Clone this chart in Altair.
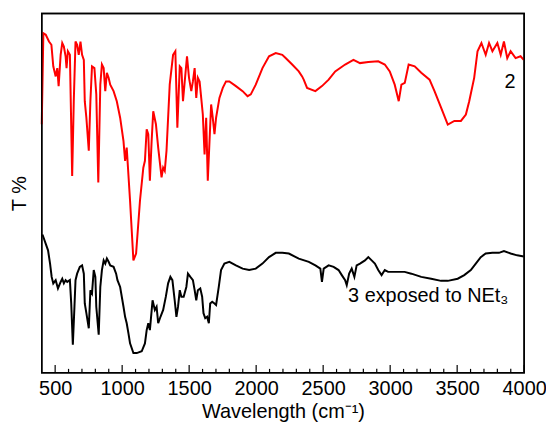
import altair as alt
import pandas as pd

FONT = "Liberation Sans"

# Spectrum of compound 2 (red, upper trace)
red_x = [400, 412, 430, 454, 472, 486, 504, 516, 526, 541, 553, 565, 578, 585, 595, 610, 627, 639, 652, 664,
         676, 689, 701, 714, 721, 733, 751, 763, 775, 793, 807, 822, 837, 849, 862, 874, 886, 899, 911, 936,
         960, 985, 1010, 1022, 1034, 1059, 1084, 1104, 1133, 1158, 1170, 1183, 1195, 1207, 1220, 1232, 1252,
         1269, 1294, 1306, 1318, 1331, 1355, 1380, 1397, 1412, 1430, 1442, 1454, 1467, 1484, 1499, 1516, 1528,
         1541, 1553, 1565, 1578, 1590, 1602, 1615, 1627, 1639, 1652, 1664, 1676, 1689, 1701, 1726, 1751, 1775,
         1800, 1849, 1899, 1936, 1960, 1997, 2047, 2096, 2146, 2195, 2220, 2269, 2318, 2343, 2355, 2380, 2442,
         2491, 2541, 2590, 2664, 2726, 2775, 2837, 2911, 2960, 2997, 3034, 3064, 3084, 3109, 3138, 3183, 3232,
         3294, 3331, 3380, 3430, 3479, 3528, 3565, 3590, 3627, 3652, 3681, 3713, 3738, 3763, 3800, 3825, 3849,
         3874, 3899, 3936, 3973, 3997]
red_y = [69.2, 94.5, 94.1, 92.2, 91.3, 85.3, 82.5, 84.8, 79.8, 88.5, 91.8, 90.8, 88.1, 84.8, 89.5, 88.5, 54.8,
         75.6, 92.2, 91.3, 88.5, 92.2, 88.5, 87.1, 75.6, 71.0, 61.8, 75.6, 85.3, 84.8, 77.5, 53.0, 80.2, 85.8,
         84.8, 78.4, 83.5, 82.1, 80.2, 78.4, 75.6, 71.0, 64.5, 59.0, 62.7, 47.9, 31.3, 33.2, 47.9, 57.1, 59.0,
         67.8, 66.4, 53.5, 64.5, 72.8, 69.2, 62.7, 54.4, 57.1, 56.2, 61.8, 80.2, 88.5, 89.5, 68.2, 85.3, 84.8,
         75.6, 81.1, 88.1, 82.1, 78.4, 81.1, 84.8, 76.5, 82.1, 81.1, 76.5, 71.9, 60.8, 71.0, 53.5, 64.5, 74.7,
         71.0, 66.4, 71.0, 76.5, 79.3, 81.1, 81.1, 79.8, 78.4, 77.0, 77.5, 80.2, 84.8, 88.1, 89.0, 88.5, 87.6,
         85.8, 83.9, 82.5, 81.6, 79.3, 78.4, 79.8, 81.6, 83.9, 85.8, 87.1, 86.2, 86.5, 86.7, 85.8, 83.9, 80.2,
         75.6, 80.2, 80.7, 85.8, 85.3, 83.5, 81.6, 78.4, 73.8, 69.1, 70.1, 70.1, 71.9, 75.6, 82.1, 89.5, 91.8,
         88.5, 91.8, 89.5, 91.8, 88.5, 92.2, 87.6, 89.5, 87.6, 88.1, 87.1]

# Spectrum of 3 exposed to NEt3 (black, lower trace)
blk_x = [405, 412, 430, 447, 462, 474, 486, 504, 521, 541, 553, 565, 578, 590, 610, 620, 632, 644, 652, 664,
         684, 701, 714, 721, 733, 751, 763, 775, 788, 800, 807, 825, 837, 849, 862, 874, 886, 899, 911, 936,
         955, 965, 985, 1010, 1022, 1034, 1047, 1059, 1084, 1109, 1146, 1170, 1183, 1195, 1207, 1227, 1244,
         1257, 1269, 1286, 1306, 1326, 1343, 1360, 1375, 1392, 1405, 1417, 1430, 1442, 1459, 1479, 1491, 1509,
         1528, 1541, 1553, 1565, 1583, 1597, 1607, 1620, 1634, 1647, 1657, 1672, 1689, 1701, 1721, 1738, 1763,
         1800, 1849, 1899, 1948, 1997, 2047, 2096, 2146, 2195, 2244, 2318, 2393, 2442, 2479, 2491, 2504, 2541,
         2578, 2615, 2639, 2664, 2676, 2694, 2713, 2733, 2750, 2775, 2812, 2837, 2862, 2886, 2911, 2936, 2960,
         2985, 3034, 3108, 3158, 3232, 3306, 3380, 3430, 3504, 3553, 3602, 3639, 3676, 3713, 3763, 3812, 3849,
         3899, 3948, 3997]
blk_y = [38.5, 37.8, 35.9, 34.1, 30.4, 26.7, 24.9, 25.8, 23.5, 25.3, 26.2, 24.9, 25.8, 25.3, 25.8, 19.3, 7.8,
         18.4, 25.8, 27.6, 29.5, 29.9, 27.6, 19.3, 16.6, 12.4, 23.0, 22.1, 28.6, 26.7, 18.4, 10.6, 23.9, 28.6,
         31.3, 30.4, 31.8, 30.9, 29.9, 29.5, 27.6, 25.8, 23.9, 18.4, 15.6, 13.8, 11.0, 8.2, 5.5, 5.5, 6.0, 8.2,
         11.9, 13.8, 11.9, 20.2, 17.5, 18.4, 13.8, 15.6, 17.5, 21.2, 24.9, 26.7, 25.8, 20.2, 15.6, 18.4, 23.0,
         21.2, 21.2, 23.9, 27.6, 26.7, 25.8, 23.0, 20.2, 23.0, 23.5, 21.2, 16.6, 15.2, 15.6, 13.8, 19.3, 19.8,
         19.3, 18.9, 23.9, 28.6, 30.4, 30.9, 29.9, 29.0, 28.6, 29.0, 30.4, 32.2, 33.4, 33.4, 33.2, 31.8, 30.9,
         29.9, 29.0, 25.3, 29.0, 29.9, 29.5, 28.6, 27.2, 25.8, 24.4, 27.6, 29.0, 26.7, 29.9, 30.4, 31.3, 32.2,
         31.3, 30.4, 28.6, 27.2, 28.6, 28.1, 28.1, 28.1, 27.6, 26.7, 26.2, 25.6, 25.6, 26.2, 27.2, 28.6, 30.4,
         32.2, 33.2, 33.4, 33.4, 33.9, 33.2, 32.7, 32.4]

series_names = ["2", "3 exposed to NEt3"]
series_colors = ["#ff0000", "#000000"]

x_labels = [500, 1000, 1500, 2000, 2500, 3000, 3500, 4000]
minor_ticks = [v for v in range(500, 4001, 100) if v % 500 != 0]

df = pd.concat([
    pd.DataFrame({"wn": red_x, "t": red_y, "s": series_names[0]}),
    pd.DataFrame({"wn": blk_x, "t": blk_y, "s": series_names[1]}),
])

W, H = 486, 362
xscale = alt.Scale(domain=[400, 4000], nice=False, zero=False)
yscale = alt.Scale(domain=[0, 100], nice=False, zero=False)

lines = alt.Chart(df).mark_line(strokeWidth=2).encode(
    x=alt.X("wn:Q", scale=xscale,
            axis=alt.Axis(values=x_labels, format="d", title="Wavelength (cm⁻¹)", tickSize=0, domain=False,
                          grid=False, labelFontSize=20, labelPadding=6, labelColor="black",
                          labelFont=FONT, titleFont=FONT, titleFontSize=20, titleFontWeight="normal",
                          titleColor="black", titlePadding=3, labelFlush=False)),
    y=alt.Y("t:Q", scale=yscale,
            axis=alt.Axis(labels=False, ticks=False, domain=False, grid=False, title="T %",
                          titleFont=FONT, titleFontSize=20, titleFontWeight="normal",
                          titleColor="black", titlePadding=12)),
    color=alt.Color("s:N", scale=alt.Scale(domain=series_names, range=series_colors), legend=None),
    detail="s:N",
)

major_df = pd.DataFrame({"wn": x_labels})
minor_df = pd.DataFrame({"wn": minor_ticks})
major_ticks = alt.Chart(major_df).mark_rule(color="black", strokeWidth=1.2).encode(
    x=alt.X("wn:Q", scale=xscale), y=alt.value(H), y2=alt.value(H - 8))
minor_ticks_layer = alt.Chart(minor_df).mark_rule(color="black", strokeWidth=1.2).encode(
    x=alt.X("wn:Q", scale=xscale), y=alt.value(H), y2=alt.value(H - 4))

frame = alt.Chart(pd.DataFrame({"k": [0]})).mark_rect(
    fill=None, fillOpacity=0, stroke="black", strokeWidth=1.5).encode(
    x=alt.value(0), x2=alt.value(W), y=alt.value(0), y2=alt.value(H))

lab2 = alt.Chart(pd.DataFrame({"wn": [3894], "t": [81], "txt": ["2"]})).mark_text(
    font=FONT, fontSize=20, color="black", align="center", baseline="middle").encode(
    x=alt.X("wn:Q", scale=xscale), y=alt.Y("t:Q", scale=yscale), text="txt:N")

lab3 = alt.Chart(pd.DataFrame({"wn": [2686], "t": [19.6], "txt": ["3 exposed to NEt₃"]})).mark_text(
    font=FONT, fontSize=20, color="black", align="left", baseline="alphabetic").encode(
    x=alt.X("wn:Q", scale=xscale), y=alt.Y("t:Q", scale=yscale), text="txt:N")

chart = alt.layer(lines, major_ticks, minor_ticks_layer, frame, lab2, lab3).properties(
    width=W, height=H,
    autosize=alt.AutoSizeParams(type="none"),
    padding={"left": 34, "top": 4, "right": 22, "bottom": 53},
).configure(background="white").configure_view(stroke="black", strokeWidth=1.5)

chart.save("out.html", embed_options={"renderer": "svg", "actions": False})
